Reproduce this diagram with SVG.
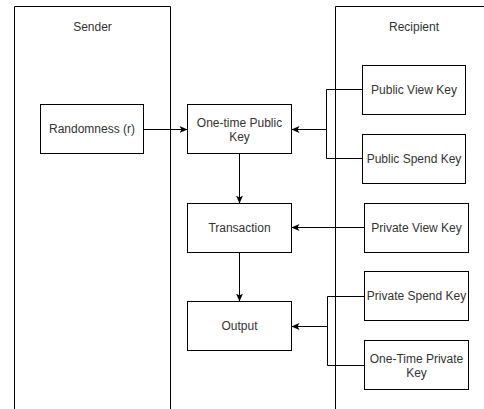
<svg xmlns="http://www.w3.org/2000/svg" width="484" height="409" viewBox="0 0 484 409">
<style>
.lane{fill:none;stroke:#000;stroke-width:1}
.box{fill:#fff;stroke:#000;stroke-width:1}
.t{font-family:"Liberation Sans",Arial,sans-serif;font-size:12px;fill:#333;text-anchor:middle}
.c{fill:none;stroke:#000;stroke-width:1}
</style>
<defs>
<marker id="arr" viewBox="0 0 8 8" refX="8" refY="4" markerWidth="8" markerHeight="8" markerUnits="userSpaceOnUse" orient="auto">
<path d="M0,0.5 L8,4 L0,7.5 L2,4 Z" fill="#000"/>
</marker>
</defs>
<rect width="484" height="409" fill="#fff"/>
<g id="lane-sender">
<path class="lane" d="M14.5,410 V6.5 H170.5 V410"/>
<text class="t" x="92.5" y="31">Sender</text>
</g>
<g id="lane-recipient">
<path class="lane" d="M335.5,410 V6.5 H492"/>
<text class="t" x="414" y="31">Recipient</text>
</g>
<g id="connectors">
<path class="c" d="M143.5,129.5 H187.5" marker-end="url(#arr)"/>
<path class="c" d="M362.5,89.5 H326.5 V158.5 H362.5"/>
<path class="c" d="M326.5,129.5 H291.5" marker-end="url(#arr)"/>
<path class="c" d="M239.5,153.5 V203.5" marker-end="url(#arr)"/>
<path class="c" d="M364.5,227.5 H291.5" marker-end="url(#arr)"/>
<path class="c" d="M239.5,252.5 V301.5" marker-end="url(#arr)"/>
<path class="c" d="M364.5,296.5 H327.5 V365.5 H364.5"/>
<path class="c" d="M327.5,326.5 H291.5" marker-end="url(#arr)"/>
</g>
<g id="randomness">
<rect class="box" x="40.5" y="104.5" width="103" height="49"/>
<text class="t" x="92" y="133.3">Randomness (r)</text>
</g>
<g id="one-time-public-key">
<rect class="box" x="187.5" y="104.5" width="104" height="49"/>
<text class="t" x="239.5" y="126.5">One-time Public</text>
<text class="t" x="239.5" y="140.5">Key</text>
</g>
<g id="transaction">
<rect class="box" x="187.5" y="203.5" width="104" height="49"/>
<text class="t" x="239.5" y="232.3">Transaction</text>
</g>
<g id="output">
<rect class="box" x="187.5" y="301.5" width="104" height="49"/>
<text class="t" x="239.5" y="330.3">Output</text>
</g>
<g id="public-view-key">
<rect class="box" x="362.5" y="65.5" width="103" height="49"/>
<text class="t" x="414" y="94.3">Public View Key</text>
</g>
<g id="public-spend-key">
<rect class="box" x="362.5" y="134.5" width="103" height="49"/>
<text class="t" x="414" y="163.3">Public Spend Key</text>
</g>
<g id="private-view-key">
<rect class="box" x="364.5" y="203.5" width="104" height="49"/>
<text class="t" x="416.5" y="232.3">Private View Key</text>
</g>
<g id="private-spend-key">
<rect class="box" x="364.5" y="271.5" width="104" height="49"/>
<text class="t" x="416.5" y="300.3">Private Spend Key</text>
</g>
<g id="one-time-private-key">
<rect class="box" x="364.5" y="340.5" width="104" height="49"/>
<text class="t" x="416.5" y="362.5">One-Time Private</text>
<text class="t" x="416.5" y="376.5">Key</text>
</g>
</svg>
